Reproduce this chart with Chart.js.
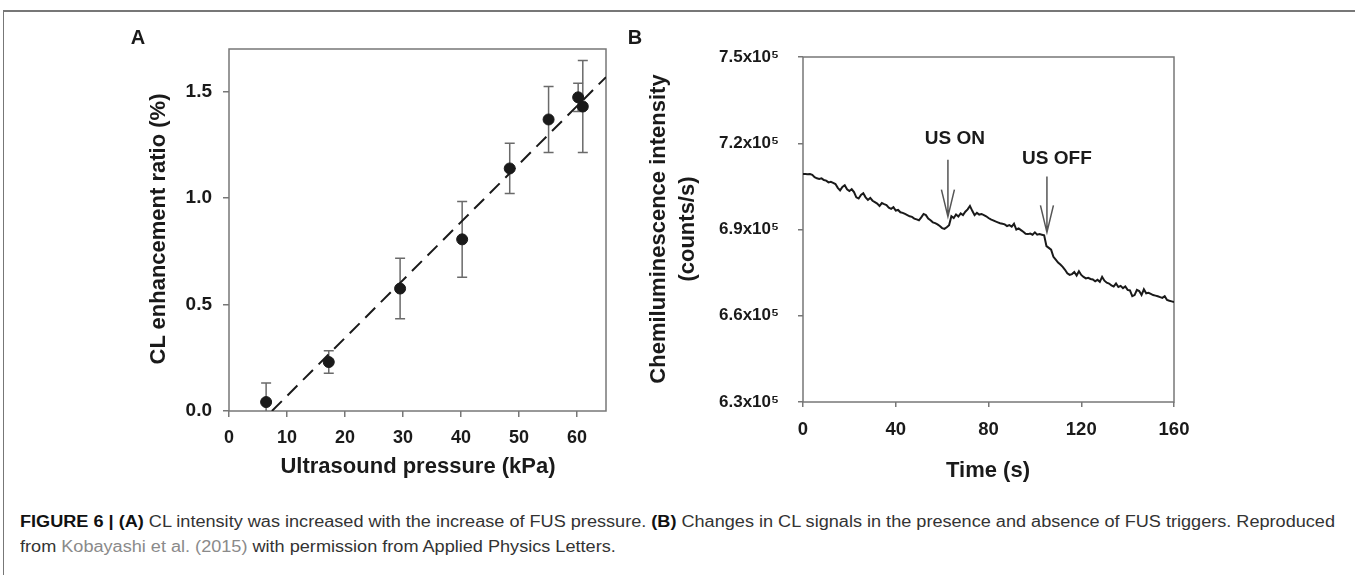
<!DOCTYPE html>
<html><head><meta charset="utf-8">
<script src="https://cdn.jsdelivr.net/npm/chart.js@4.4.0/dist/chart.umd.min.js"></script>
<style>
html,body{margin:0;padding:0;background:#fff;}
body{width:1355px;height:575px;position:relative;overflow:hidden;font-family:"Liberation Sans",Arial,sans-serif;}
#frame{position:absolute;left:3px;top:10px;width:1400px;height:700px;border-left:1.5px solid #777;border-top:2px solid #777;}
canvas{position:absolute;top:0;}
.lbl{position:absolute;font-weight:bold;color:#1a1a1a;white-space:nowrap;transform:translate(-50%,-50%);}
.rot{transform:translate(-50%,-50%) rotate(-90deg);text-align:center;}
.cap{position:absolute;left:20px;font-size:16px;color:#333;white-space:nowrap;transform-origin:0 50%;line-height:20px;}
.cap b{color:#111;}
.link{color:#8a8a8a;}
</style>
</head><body>
<div id="frame"></div>
<canvas id="chartA" width="640" height="480" style="left:0;width:640px;height:480px"></canvas>
<canvas id="chartB" width="715" height="480" style="left:640px;width:715px;height:480px"></canvas>

<div class="lbl" style="left:138px;top:37px;font-size:20px">A</div>
<div class="lbl" style="left:635px;top:37px;font-size:20px">B</div>
<div class="lbl rot" style="left:158px;top:229px;font-size:22px">CL enhancement ratio (%)</div>
<div class="lbl" style="left:418px;top:466px;font-size:22px">Ultrasound pressure (kPa)</div>
<div class="lbl rot" style="left:672px;top:229px;font-size:22px;line-height:29px">Chemiluminescence intensity<br>(counts/s)</div>
<div class="lbl" style="left:988px;top:470px;font-size:22px">Time (s)</div>

<div class="cap" id="cap1" style="top:512px"><b>FIGURE 6 | (A)</b> CL intensity was increased with the increase of FUS pressure. <b>(B)</b> Changes in CL signals in the presence and absence of FUS triggers. Reproduced</div>
<div class="cap" id="cap2" style="top:537px">from <span class="link">Kobayashi et al. (2015)</span> with permission from Applied Physics Letters.</div>

<script>
// ---------- Panel A data ----------
const pressureKPa    = [6.4, 17.2, 29.5, 40.2, 48.4, 55.1, 60.2, 61.0];
const enhancement    = [0.042, 0.230, 0.575, 0.806, 1.139, 1.369, 1.473, 1.430];
const enhancementErr = [0.090, 0.053, 0.142, 0.178, 0.118, 0.155, 0.066, 0.216];
const fitPressure    = [7.4, 65];
const fitRatio       = [0.0, 1.568];
const pressureTicks  = [0, 10, 20, 30, 40, 50, 60];
const ratioTicks     = [0.0, 0.5, 1.0, 1.5];
const ratioTickLabels = ['0.0', '0.5', '1.0', '1.5'];

// ---------- Panel B data ----------
const timeS = [];
for (let t = 0; t <= 160; t++) timeS.push(t);
const clIntensity = [
 709300,709300,709200,709300,709000,708200,707800,707600,707800,707200,
 707000,706400,706600,706200,705800,704500,703600,704800,705400,704000,
 703400,704000,703000,701200,700800,702000,702600,701200,700300,701000,
 700000,699500,699000,698200,699200,698800,698500,697600,697200,697800,
 696600,696800,696000,695800,695400,695000,694600,694400,693800,693500,
 693200,694200,695400,695000,693800,693200,692500,692200,691800,691200,
 690500,690200,690800,691500,694600,694000,695200,694500,695600,695000,
 696200,697000,698200,696500,695000,695800,695200,695400,695000,694600,
 694000,693500,693200,692800,692500,692200,692000,691800,691200,691500,
 691000,692000,690000,690400,689800,689200,688500,688400,688600,688200,
 689000,688200,688400,688200,688000,684200,683600,683000,680500,679500,
 678500,677800,677000,676000,674800,674200,674500,675200,674000,675500,
 674200,673500,673000,673200,672800,672600,672000,672500,671800,673500,
 672200,671500,671200,670600,670200,671200,670000,670400,669600,670200,
 669000,668800,666800,667200,669000,668600,667200,669200,667800,668000,
 667600,667200,667000,666800,666500,666200,666800,665500,665200,665000,
 664800
];
const timeTicks = [0, 40, 80, 120, 160];
const intensityTicks = [630000, 660000, 690000, 720000, 750000];
const intensityTickLabels = ['6.3x10\u2075', '6.6x10\u2075', '6.9x10\u2075', '7.2x10\u2075', '7.5x10\u2075'];
const usEvents = [
  { text: 'US ON',  time: 62.5,  tail: 714300, tip: 694500, textTime: 65.5,  textLevel: 721600 },
  { text: 'US OFF', time: 105.2, tail: 708400, tip: 689000, textTime: 109.5, textLevel: 714600 }
];

const FONT = '"Liberation Sans", Arial, sans-serif';
const AXIS_GREY = '#777';

const boxPlugin = {
  id: 'box',
  beforeDatasetsDraw(chart) {
    const { ctx, chartArea: a } = chart;
    ctx.save();
    ctx.strokeStyle = AXIS_GREY; ctx.lineWidth = 1.5;
    ctx.strokeRect(a.left, a.top, a.right - a.left, a.bottom - a.top);
    ctx.restore();
  }
};

const errorBarPlugin = {
  id: 'errorBars',
  beforeDatasetsDraw(chart) {
    const { ctx, chartArea: a, scales: { x, y } } = chart;
    ctx.save();
    ctx.beginPath(); ctx.rect(a.left, a.top, a.right - a.left, a.bottom - a.top); ctx.clip();
    ctx.strokeStyle = '#6a6a6a'; ctx.lineWidth = 1.5;
    pressureKPa.forEach((p, i) => {
      const px = x.getPixelForValue(p);
      const top = y.getPixelForValue(enhancement[i] + enhancementErr[i]);
      const bot = y.getPixelForValue(enhancement[i] - enhancementErr[i]);
      ctx.beginPath();
      ctx.moveTo(px, top); ctx.lineTo(px, bot);
      ctx.moveTo(px - 5, top); ctx.lineTo(px + 5, top);
      ctx.moveTo(px - 5, bot); ctx.lineTo(px + 5, bot);
      ctx.stroke();
    });
    ctx.restore();
  }
};

const arrowPlugin = {
  id: 'arrows',
  afterDatasetsDraw(chart) {
    const { ctx, scales: { x, y } } = chart;
    ctx.save();
    usEvents.forEach(ev => {
      const px = x.getPixelForValue(ev.time);
      const y0 = y.getPixelForValue(ev.tail);
      const y1 = y.getPixelForValue(ev.tip);
      ctx.strokeStyle = '#555'; ctx.lineWidth = 1.5;
      ctx.beginPath();
      ctx.moveTo(px, y0); ctx.lineTo(px, y1);
      ctx.moveTo(px - 6.5, y1 - 27); ctx.lineTo(px, y1); ctx.lineTo(px + 6.5, y1 - 27);
      ctx.stroke();
      ctx.fillStyle = '#1a1a1a';
      ctx.font = 'bold 19px ' + FONT;
      ctx.textAlign = 'center'; ctx.textBaseline = 'middle';
      ctx.fillText(ev.text, x.getPixelForValue(ev.textTime), y.getPixelForValue(ev.textLevel));
    });
    ctx.restore();
  }
};

function axisCommon(tickSize, tickLen, pad, labels) {
  const o = {
    border: { display: false },
    grid: { drawOnChartArea: false, drawTicks: true, tickLength: tickLen, color: AXIS_GREY, lineWidth: 1.5 },
    ticks: { color: '#1a1a1a', padding: pad, font: { family: FONT, size: tickSize, weight: 'bold' } }
  };
  if (labels) o.ticks.callback = (v, i) => labels[i];
  return o;
}

// ---------- Chart A ----------
new Chart(document.getElementById('chartA'), {
  type: 'scatter',
  data: {
    datasets: [
      {
        type: 'line',
        data: fitPressure.map((p, i) => ({ x: p, y: fitRatio[i] })),
        borderColor: '#1a1a1a', borderWidth: 2, borderDash: [14, 8],
        pointRadius: 0, fill: false, tension: 0
      },
      {
        data: pressureKPa.map((p, i) => ({ x: p, y: enhancement[i] })),
        backgroundColor: '#1a1a1a', borderColor: '#1a1a1a',
        pointRadius: 5.5, pointHoverRadius: 5.5
      }
    ]
  },
  options: {
    responsive: false, animation: false, events: [],
    layout: { padding: { left: 0, top: 49, right: 34, bottom: 0 } },
    plugins: { legend: { display: false }, tooltip: { enabled: false } },
    scales: {
      x: Object.assign(axisCommon(18, 6, 10), {
        type: 'linear', min: 0, max: 65,
        afterBuildTicks: s => { s.ticks = pressureTicks.map(v => ({ value: v })); },
        afterFit: s => { s.height = 69; }
      }),
      y: Object.assign(axisCommon(19, 6, 11, ratioTickLabels), {
        type: 'linear', min: 0, max: 1.7,
        afterBuildTicks: s => { s.ticks = ratioTicks.map(v => ({ value: v })); },
        afterFit: s => { s.width = 229; }
      })
    }
  },
  plugins: [boxPlugin, errorBarPlugin]
});

// ---------- Chart B ----------
new Chart(document.getElementById('chartB'), {
  type: 'line',
  data: {
    datasets: [{
      data: timeS.map((t, i) => ({ x: t, y: clIntensity[i] })),
      borderColor: '#1a1a1a', borderWidth: 2, pointRadius: 0, tension: 0, fill: false
    }]
  },
  options: {
    responsive: false, animation: false, events: [],
    layout: { padding: { left: 0, top: 57, right: 181, bottom: 0 } },
    plugins: { legend: { display: false }, tooltip: { enabled: false } },
    scales: {
      x: Object.assign(axisCommon(18.5, 5, 12), {
        type: 'linear', min: 0, max: 160,
        afterBuildTicks: s => { s.ticks = timeTicks.map(v => ({ value: v })); },
        afterFit: s => { s.height = 78; }
      }),
      y: Object.assign(axisCommon(17, 5, 19, intensityTickLabels), {
        type: 'linear', min: 630000, max: 750000,
        afterBuildTicks: s => { s.ticks = intensityTicks.map(v => ({ value: v })); },
        afterFit: s => { s.width = 163; }
      })
    }
  },
  plugins: [boxPlugin, arrowPlugin]
});

// caption width fit
const c1 = document.getElementById('cap1'), c2 = document.getElementById('cap2');
const k = 1315 / c1.getBoundingClientRect().width;
c1.style.transform = 'scaleX(' + k + ')';
c2.style.transform = 'scaleX(' + k + ')';
</script>
</body></html>
